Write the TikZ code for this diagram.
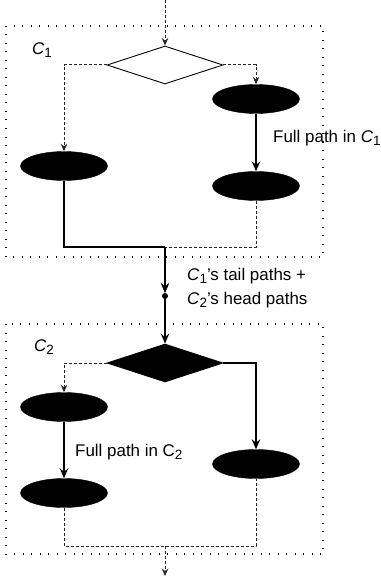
\documentclass[tikz,border=0pt]{standalone}
\usepackage{fontspec}
\setmainfont{Liberation Sans}
\usetikzlibrary{arrows.meta,shapes.geometric}
\newcommand\mysubs[1]{\raisebox{-0.4ex}{\fontsize{13.5}{13.5}\selectfont #1}}
\begin{document}
\begin{tikzpicture}[x=1bp,y=-1bp,
  blk/.style={ellipse, fill=black, draw=black, minimum width=87bp, minimum height=29bp, inner sep=0pt},
  dec/.style={diamond, draw=black, line width=0.9bp, minimum width=116bp, minimum height=38bp, inner sep=0pt},
  dotbox/.style={draw=black, line width=2bp, dash pattern=on 0.3bp off 8.2bp},
  sol/.style={draw=black, line width=1.5bp, -{Stealth[length=10bp,width=8.5bp,inset=3.5bp]}},
  solplain/.style={draw=black, line width=1.5bp},
  dsh/.style={draw=black!85, line width=1bp, dash pattern=on 3bp off 2bp, -{Stealth[length=7.5bp,width=6.5bp,inset=2.5bp]}},
  dshplain/.style={draw=black!85, line width=1bp, dash pattern=on 3bp off 2bp},
  lbl/.style={font=\fontsize{17}{24}\selectfont, inner sep=0pt}
]
\useasboundingbox (0,0) rectangle (380,581);
% containers
\draw[dotbox] (6,26) rectangle (323,257);
\draw[dotbox] (6,324) rectangle (323,554);
% nodes
\node[dec] (d1) at (165,65) {};
\node[blk] (r1) at (256,99) {};
\node[blk] (l1) at (64,166) {};
\node[blk] (r2) at (256,186) {};
\node[circle, fill=black, inner sep=0pt, minimum size=6bp] (dot) at (165,296) {};
\node[dec, fill=black] (d2) at (165,363) {};
\node[blk] (l2) at (64,407) {};
\node[blk] (l3) at (64,493) {};
\node[blk] (r3) at (256,464) {};
\coordinate (top) at (165,0);
\coordinate (bot) at (165,576);
\coordinate (j1) at (165,247);
\coordinate (j2) at (165,546);
% labels
\node[lbl] (c1) at (42,50) {\textit{C}\mysubs{1}};
\node[lbl] (c2) at (44,347) {\textit{C}\mysubs{2}};
\node[lbl, anchor=west] (f1) at (273,138) {Full path in \textit{C}\mysubs{1}};
\node[lbl, anchor=west] (f2) at (75,452) {Full path in C\mysubs{2}};
\node[lbl, anchor=west, align=left] (tl) at (187,288) {\textit{C}\mysubs{1}'s tail paths +\\\textit{C}\mysubs{2}'s head paths};
% connectors
\draw[dsh] (top) -- (d1.north);
\draw[dsh] (d1.west) -| (l1.north);
\draw[dsh] (d1.east) -| (r1.north);
\draw[sol] (r1.south) -- (r2.north);
\draw[dshplain] (r2.south) |- (j1);
\draw[dsh] (j1) -- (dot.north);
\draw[solplain] (l1.south) |- (j1);
\draw[sol] (j1) -- (dot.north);
\draw[sol] (dot) -- (d2.north);
\draw[dsh] (d2.west) -| (l2.north);
\draw[sol] (d2.east) -| (r3.north);
\draw[sol] (l2.south) -- (l3.north);
\draw[dshplain] (l3.south) |- (j2) -| (r3.south);
\draw[dsh] (j2) -- (bot);
\end{tikzpicture}
\end{document}
